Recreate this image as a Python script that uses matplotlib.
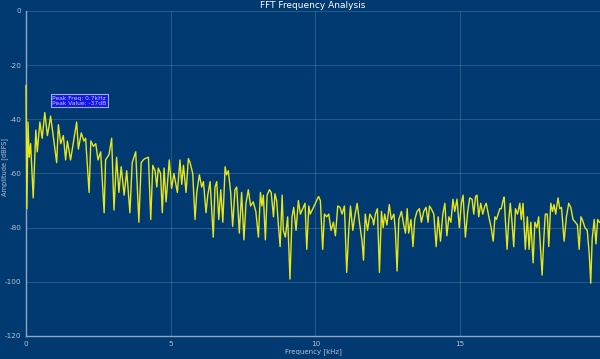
import matplotlib
matplotlib.use("Agg")
import matplotlib.pyplot as plt

plt.rcParams["axes.unicode_minus"] = False

# spectrum values (frequency in kHz, amplitude in dBFS)
freq_khz = [
    0.00, 0.03, 0.07, 0.11, 0.16, 0.25, 0.34, 0.39, 0.48, 0.56,
    0.65, 0.74, 0.79, 0.85, 0.94, 1.06, 1.12, 1.20, 1.29, 1.37,
    1.43, 1.54, 1.63, 1.75, 1.81, 1.91, 2.00, 2.06, 2.18, 2.24,
    2.33, 2.41, 2.49, 2.58, 2.70, 2.75, 2.87, 2.96, 3.04, 3.13,
    3.21, 3.29, 3.39, 3.48, 3.59, 3.67, 3.79, 3.90, 3.98, 4.05,
    4.11, 4.23, 4.31, 4.38, 4.46, 4.52, 4.57, 4.65, 4.71, 4.77,
    4.84, 4.95, 5.03, 5.11, 5.18, 5.23, 5.32, 5.38, 5.44, 5.53,
    5.61, 5.67, 5.76, 5.84, 5.90, 5.99, 6.07, 6.13, 6.22, 6.28,
    6.36, 6.47, 6.53, 6.59, 6.66, 6.73, 6.80, 6.88, 6.93, 6.99,
    7.07, 7.14, 7.22, 7.28, 7.37, 7.45, 7.53, 7.60, 7.68, 7.76,
    7.85, 7.94, 8.03, 8.10, 8.15, 8.20, 8.27, 8.33, 8.41, 8.47,
    8.55, 8.60, 8.66, 8.72, 8.78, 8.85, 8.89, 8.96, 9.04, 9.12,
    9.19, 9.25, 9.33, 9.41, 9.48, 9.56, 9.64, 9.70, 9.77, 9.82,
    9.91, 10.00, 10.08, 10.11, 10.17, 10.25, 10.31, 10.39, 10.46, 10.54,
    10.62, 10.69, 10.77, 10.85, 10.92, 11.00, 11.08, 11.15, 11.21, 11.29,
    11.37, 11.44, 11.52, 11.61, 11.66, 11.72, 11.80, 11.88, 11.98, 12.01,
    12.07, 12.14, 12.21, 12.28, 12.34, 12.39, 12.47, 12.55, 12.62, 12.71,
    12.76, 12.82, 12.88, 12.97, 13.05, 13.11, 13.17, 13.22, 13.30, 13.37,
    13.43, 13.51, 13.59, 13.66, 13.74, 13.82, 13.89, 13.94, 14.00, 14.09,
    14.17, 14.24, 14.32, 14.40, 14.47, 14.54, 14.61, 14.68, 14.75, 14.81,
    14.89, 14.97, 15.04, 15.10, 15.18, 15.26, 15.33, 15.41, 15.47, 15.53,
    15.58, 15.64, 15.71, 15.78, 15.85, 15.90, 15.99, 16.07, 16.14, 16.20,
    16.25, 16.31, 16.37, 16.42, 16.48, 16.52, 16.56, 16.62, 16.68, 16.73,
    16.79, 16.85, 16.91, 16.98, 17.06, 17.11, 17.17, 17.25, 17.32, 17.38,
    17.44, 17.52, 17.58, 17.65, 17.71, 17.77, 17.83, 17.89, 17.94, 18.01,
    18.06, 18.13, 18.19, 18.24, 18.30, 18.38, 18.44, 18.50, 18.59, 18.67,
    18.75, 18.82, 18.90, 18.98, 19.05, 19.11, 19.17, 19.22, 19.31, 19.39,
    19.46, 19.51, 19.56, 19.63, 19.69, 19.75, 19.81,
]
amp_db = [
    -27.5, -73, -41, -54, -49, -69, -44, -52, -41, -47,
    -37.5, -46, -43, -38.8, -46, -56, -42, -49, -46, -55,
    -48, -55, -49, -41, -51, -45, -48, -47, -67, -48,
    -50, -49, -55, -52, -74.5, -55, -53, -47, -73.5, -54,
    -67, -57.5, -68, -59, -74.5, -56, -52, -78, -56, -55,
    -54.5, -54, -77, -57, -59, -65, -58, -60, -74.5, -58,
    -70.5, -55, -65.5, -60, -64, -67, -55, -64, -57, -67,
    -54.5, -56, -60, -77, -67, -60.5, -65, -63, -74.5, -68,
    -63, -83.5, -65, -63, -77, -66, -78, -57.5, -60.5, -59,
    -67, -79.5, -66, -65, -82, -67, -84.5, -71, -66, -72,
    -70.5, -74, -83.5, -67, -72, -68, -84.5, -68, -66, -67,
    -76, -67.5, -70, -79, -87, -68, -81, -83.5, -76, -99,
    -76, -72.5, -81, -70, -75, -73, -71, -88, -72, -75,
    -73, -71, -69, -68.5, -70, -88, -75, -76, -75, -81,
    -78, -83, -72, -72.5, -75, -72, -96.5, -81, -72, -81,
    -75, -71, -78, -85, -92, -75, -81, -75, -77, -79,
    -75, -73, -96.5, -74, -80, -75, -79, -71.5, -77, -75,
    -81, -96, -77, -74, -79, -82, -73, -82, -77, -87,
    -77, -74, -73, -78, -74, -72.5, -78, -72, -73, -75,
    -87, -76, -85, -75, -71, -83, -76, -78, -69.5, -74,
    -69.5, -80, -71, -68, -83.5, -74, -69, -69.5, -75, -68.5,
    -68, -76, -71, -75, -72, -71, -76, -80, -85, -76,
    -77, -75, -73, -73, -70, -68.7, -77, -88, -77, -71,
    -78, -87, -73, -75, -71, -77, -71, -88, -76, -88,
    -78, -93, -78, -80, -76, -87, -97.5, -84, -75, -75,
    -87, -71, -74, -71.5, -75, -69, -73, -72.5, -85, -76,
    -71, -72.5, -77, -78, -79, -88, -76, -77, -80, -81,
    -90, -100.5, -84, -77, -86, -77, -78,
]

peak_freq = 0.7
peak_value = -37

x_ticks = [0, 5, 10, 15]
y_ticks = [0, -20, -40, -60, -80, -100, -120]

BG = "#003a70"
TXT = "#b4c2d6"

fig = plt.figure(figsize=(6.0, 3.59), dpi=100, facecolor=BG)
ax = fig.add_axes([0.0433, 0.0641, 0.9567, 0.9053])
ax.set_facecolor(BG)

ax.plot(freq_khz, amp_db, color="#e6e619", linewidth=1.0, zorder=3, clip_on=False)

ax.set_xlim(0, 19.83)
ax.set_ylim(-120, 0)
ax.set_xticks(x_ticks)
ax.set_yticks(y_ticks)
ax.tick_params(colors=TXT, labelsize=5.2, length=0, pad=3.5)
ax.grid(True, color="white", alpha=0.15, linewidth=0.8)

for side in ("top", "right"):
    ax.spines[side].set_visible(False)
for side in ("left", "bottom"):
    ax.spines[side].set_color("#8fa6c4")
    ax.spines[side].set_linewidth(1.0)

ax.set_title("FFT Frequency Analysis", color="white", fontsize=6.5, pad=2)
ax.set_xlabel("Frequency [kHz]", color=TXT, fontsize=5, labelpad=1)
ax.set_ylabel("Amplitude [dBFS]", color=TXT, fontsize=4.8)
ax.yaxis.set_label_coords(-0.038, 0.52)
ax.yaxis.label.set_va("center")

ax.text(0.9, -31.3,
        f"Peak Freq: {peak_freq}kHz\nPeak Value: {peak_value}dB",
        color="#c8d0e6", fontsize=4.3, va="top", ha="left", linespacing=1.05,
        bbox=dict(boxstyle="square,pad=0.25", facecolor="#1414ee",
                  edgecolor="#9ab0e0", linewidth=0.8))

fig.savefig("out.png", dpi=100, facecolor=BG)
